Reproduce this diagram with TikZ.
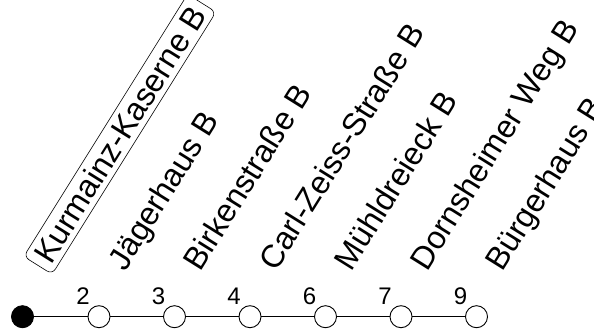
\documentclass[tikz,border=0pt]{standalone}
\usepackage{fontspec}
\setmainfont{Liberation Sans}
\begin{document}
\begin{tikzpicture}[x=1pt,y=1pt,
	stop/.style={circle,draw,line width=0.9pt,minimum size=22pt,inner sep=0pt,fill=white},
	stopname/.style={anchor=base west,rotate=58,inner sep=0pt,font=\fontsize{32}{36}\selectfont},
	stopnum/.style={font=\fontsize{24}{28}\selectfont,inner sep=0pt}]
	\useasboundingbox (0,0) rectangle (594,332);
	% Draw the stops and their numbers
	\node[stop,fill=black] (s1) at (22.5,15.3) {};
	\foreach \i/\x/\n in {2/99/2, 3/174.5/3, 4/250/4, 5/325.5/6, 6/401/7, 7/476.5/9} {
		\node[stop] (s\i) at (\x,15.3) {};
		\node[stopnum] (n\i) at (\x-16,35.5) {\n};
	}
	% Draw the line
	\foreach \i [evaluate=\i as \j using int(\i+1)] in {1,...,6}
		\draw[line width=0.9pt] (s\i) -- (s\j);
	% Draw the names
	\node[stopname,draw,line width=0.6pt,rounded corners=6pt,inner xsep=7pt,inner ysep=5pt]
		(l1) at ([shift={(25,45)}]s1.center) {Kurmainz-Kaserne B};
	\foreach \i/\txt in {2/Jägerhaus B, 3/Birkenstraße B, 4/Carl-Zeiss-Straße B,
		5/Mühldreieck B, 6/Dornsheimer Weg B, 7/Bürgerhaus B}
		\node[stopname] (l\i) at ([shift={(26,44)}]s\i.center) {\txt};
\end{tikzpicture}
\end{document}
